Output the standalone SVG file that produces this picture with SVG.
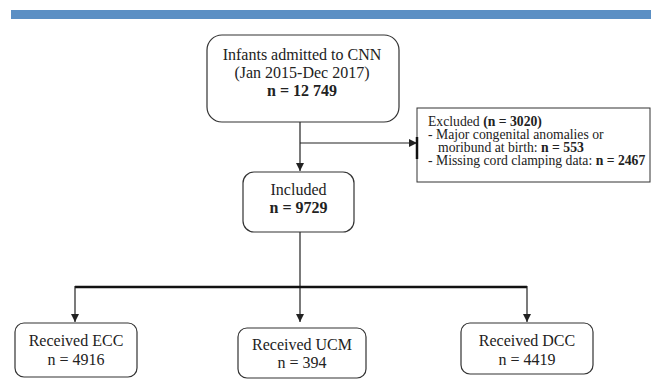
<svg xmlns="http://www.w3.org/2000/svg" width="651" height="385" viewBox="0 0 651 385">
<style>
.box{fill:#fff;stroke:#333;stroke-width:1.2}
.t{font-family:"Liberation Serif","Times New Roman",serif;font-size:16px;fill:#222;text-anchor:middle}
.s{font-family:"Liberation Serif","Times New Roman",serif;font-size:13.7px;fill:#222}
.b{font-weight:bold}
.ln{stroke:#222;stroke-width:1.2;fill:none}
</style>
<defs>
<marker id="ah" viewBox="0 0 10 10" refX="10" refY="5" markerWidth="8" markerHeight="8" markerUnits="userSpaceOnUse" orient="auto">
<path d="M0,0 L10,5 L0,10 z" fill="#222"/>
</marker>
</defs>
<rect x="11" y="10" width="640" height="9" fill="#5B8FC4"/>
<g id="connectors">
<line class="ln" x1="300" y1="122" x2="300" y2="171" marker-end="url(#ah)"/>
<line class="ln" x1="300" y1="143" x2="417" y2="143" stroke="#555" marker-end="url(#ah)"/>
<line class="ln" x1="300" y1="232" x2="300" y2="322" marker-end="url(#ah)"/>
<line x1="75" y1="287" x2="527" y2="287" stroke="#111" stroke-width="2.6"/>
<line class="ln" x1="75" y1="286" x2="75" y2="322" marker-end="url(#ah)"/>
<line class="ln" x1="527" y1="286" x2="527" y2="322" marker-end="url(#ah)"/>
</g>
<g id="n-admitted">
<rect class="box" x="207" y="35" width="192" height="87" rx="15"/>
<text class="t" x="302" y="60">Infants admitted to CNN</text>
<text class="t" x="302" y="78">(Jan 2015-Dec 2017)</text>
<text class="t b" x="302" y="96">n = 12 749</text>
</g>
<g id="n-excluded">
<rect x="417" y="108" width="233" height="74" fill="#fff" stroke="#333" stroke-width="1"/>
<line x1="417" y1="137" x2="417" y2="159" stroke="#111" stroke-width="2.5"/>
<text class="s" x="428" y="126">Excluded <tspan class="b">(n = 3020)</tspan></text>
<text class="s" x="428" y="139">- Major congenital anomalies or</text>
<text class="s" x="438" y="152">moribund at birth: <tspan class="b">n = 553</tspan></text>
<text class="s" x="428" y="165">- Missing cord clamping data: <tspan class="b">n = 2467</tspan></text>
</g>
<g id="n-included">
<rect class="box" x="243" y="172" width="111" height="60" rx="11"/>
<text class="t" x="298.5" y="195">Included</text>
<text class="t b" x="298.5" y="213">n = 9729</text>
</g>
<g id="n-ecc">
<rect class="box" x="15" y="323" width="122" height="54" rx="9"/>
<text class="t" x="76" y="346">Received ECC</text>
<text class="t" x="76" y="365">n = 4916</text>
</g>
<g id="n-ucm">
<rect class="box" x="238" y="328" width="128" height="50" rx="9"/>
<text class="t" x="302" y="350">Received UCM</text>
<text class="t" x="302" y="368">n = 394</text>
</g>
<g id="n-dcc">
<rect class="box" x="461" y="323" width="132" height="51" rx="9"/>
<text class="t" x="527" y="346">Received DCC</text>
<text class="t" x="527" y="365">n = 4419</text>
</g>
</svg>
